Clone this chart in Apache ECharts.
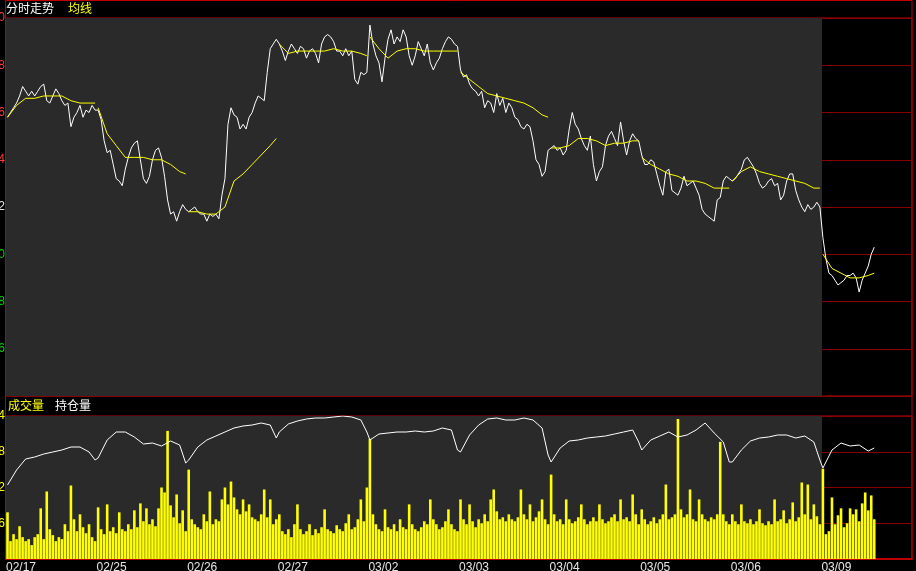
<!DOCTYPE html>
<html><head><meta charset="utf-8">
<script src="https://cdn.jsdelivr.net/npm/echarts/dist/echarts.min.js"></script>
<style>html,body{margin:0;padding:0;background:#000;overflow:hidden;}#c{width:916px;height:571px;}</style>
</head><body><div id="c"></div>
<script>
// ---- data ----
const dates = ['02/17','02/25','02/26','02/27','03/02','03/03','03/04','03/05','03/06','03/09'];
const SLOTS = 30; // samples per trading day
const priceMin = 2814, priceMax = 2830, priceStep = 2, basePrice = 2822;
const volMax = 144, volStep = 36;
const oiMin = 180000, oiMax = 194300;

const price = [
 2825.8,2826.0,2826.2,2826.4,2826.7,2827.1,2826.9,2826.7,2826.9,2826.7,2826.9,2827.1,2827.2,2826.5,2826.4,2826.7,2827.0,2826.8,2826.5,2826.3,2826.4,2825.4,2825.8,2826.0,2826.3,2825.8,2826.1,2826.0,2826.3,2826.1,
 2826.1,2825.7,2824.8,2824.3,2824.4,2823.8,2823.2,2823.1,2822.9,2823.6,2824.1,2824.5,2824.7,2824.8,2824.0,2823.2,2823.0,2823.3,2824.0,2824.4,2824.5,2824.1,2823.3,2822.3,2821.7,2821.8,2821.4,2821.8,2822.1,2821.9,
 2821.8,2821.9,2822.0,2821.8,2821.7,2821.7,2821.4,2821.7,2821.6,2821.7,2821.5,2822.5,2823.2,2825.5,2826.2,2825.9,2825.8,2825.3,2825.5,2825.3,2825.8,2826.0,2826.4,2826.7,2826.6,2826.5,2827.7,2828.7,2828.9,2829.1,
 2828.9,2828.6,2828.2,2828.6,2828.9,2828.7,2828.5,2828.8,2828.7,2828.3,2828.6,2828.7,2828.5,2828.1,2828.9,2829.2,2829.3,2829.2,2829.0,2828.6,2828.6,2828.4,2828.7,2828.4,2828.6,2827.4,2827.2,2827.7,2827.6,2827.7,
 2829.7,2828.9,2828.4,2828.1,2827.3,2828.3,2829.1,2829.5,2828.9,2829.2,2829.0,2829.5,2829.2,2828.4,2828.0,2828.4,2829.0,2828.7,2828.4,2828.9,2828.1,2827.8,2828.1,2828.3,2828.7,2829.0,2829.2,2829.1,2828.9,2828.8,
 2827.8,2827.5,2827.6,2827.2,2827.0,2826.9,2826.7,2826.9,2826.2,2826.5,2826.4,2826.0,2826.8,2826.3,2826.6,2826.0,2826.4,2826.2,2825.8,2825.7,2825.4,2825.3,2825.5,2825.4,2824.8,2824.0,2823.8,2823.3,2823.5,2824.4,
 2824.5,2824.6,2824.4,2824.5,2824.2,2824.4,2825.3,2826.0,2825.5,2825.3,2824.9,2824.6,2824.4,2825.0,2823.8,2823.1,2823.5,2823.7,2824.6,2825.0,2825.2,2824.9,2824.6,2825.6,2824.8,2824.2,2824.8,2825.1,2824.9,2824.8,
 2824.2,2823.8,2823.8,2824.0,2823.9,2823.4,2822.9,2822.5,2823.5,2823.6,2822.7,2822.6,2822.5,2822.8,2823.3,2822.9,2823.0,2823.1,2822.8,2822.5,2821.9,2821.7,2821.6,2821.5,2821.4,2822.3,2822.4,2823.1,2823.3,2823.2,
 2823.1,2823.2,2823.4,2823.6,2824.0,2824.1,2823.9,2823.7,2823.4,2823.0,2822.8,2822.9,2823.1,2823.2,2822.9,2823.0,2822.3,2822.5,2823.1,2823.4,2823.4,2822.7,2822.3,2822.0,2821.8,2822.1,2821.9,2822.0,2822.2,2822.0,
 2820.7,2819.8,2819.2,2819.1,2818.9,2818.7,2818.8,2818.9,2819.1,2819.1,2819.2,2819.0,2818.4,2818.9,2819.2,2819.5,2820.0,2820.3
];

const volume = [
 47,18,25,20,33,22,18,20,14,22,25,51,20,68,30,24,18,22,20,35,28,74,40,28,45,32,26,35,22,18,
 52,30,25,55,28,32,26,47,30,28,35,30,49,32,56,38,51,35,40,33,51,72,67,129,54,42,65,36,49,28,
 90,40,35,32,30,45,38,68,35,40,38,60,72,55,78,62,50,45,60,48,55,42,40,38,45,70,42,60,35,40,
 45,28,25,30,22,35,55,30,25,28,35,24,30,26,32,50,30,28,26,34,30,28,36,45,30,32,40,60,38,72,
 121,45,35,30,28,50,32,30,35,28,40,32,30,55,35,30,28,32,38,35,60,40,35,30,32,38,50,35,30,28,
 60,40,35,55,38,32,40,36,45,38,60,70,48,40,42,38,45,40,38,42,70,45,40,55,38,42,48,60,40,35,
 85,45,38,40,35,60,40,36,38,42,55,40,35,38,42,38,55,40,36,38,42,45,38,60,40,42,38,65,45,35,
 50,40,35,38,42,36,40,45,75,40,42,45,141,50,42,45,70,40,38,60,45,40,38,42,40,45,118,45,38,35,
 45,38,35,55,38,36,40,35,38,50,36,34,38,35,60,38,40,49,36,40,57,38,42,77,45,75,40,55,43,35,
 91,25,28,62,35,44,51,32,36,51,45,50,38,56,67,49,64,40
];

// slots (within a day) at which the average line and open interest were read
const sampleSlots = [0,3,6,9,12,15,18,21,24,27,29];
const lastDaySlots = [0,3,6,9,12,15,17];

const avgByDay = [
 [2825.8,2826.3,2826.6,2826.6,2826.7,2826.7,2826.7,2826.5,2826.4,2826.4,2826.4],
 [2826.2,2825.1,2824.6,2824.1,2824.1,2824.1,2824.0,2824.0,2823.8,2823.5,2823.4],
 [2821.8,2821.8,2821.7,2821.7,2822.0,2823.1,2823.4,2823.8,2824.2,2824.6,2824.9],
 [2828.9,2828.5,2828.6,2828.6,2828.6,2828.6,2828.7,2828.6,2828.6,2828.5,2828.4],
 [2829.2,2828.7,2828.3,2828.6,2828.7,2828.7,2828.6,2828.6,2828.6,2828.6,2828.6],
 [2827.7,2827.4,2827.1,2826.8,2826.7,2826.6,2826.5,2826.4,2826.2,2825.9,2825.8],
 [2824.5,2824.5,2824.6,2824.9,2824.9,2824.8,2824.6,2824.7,2824.7,2824.8,2824.8],
 [2824.1,2823.8,2823.6,2823.4,2823.3,2823.1,2823.1,2823.0,2822.8,2822.8,2822.8],
 [2823.1,2823.5,2823.7,2823.5,2823.4,2823.3,2823.2,2823.1,2823.0,2822.8,2822.8],
 [2820.0,2819.4,2819.2,2819.0,2819.0,2819.1,2819.2]
];

const oiByDay = [
 [187400,188900,190000,190200,190500,190700,190900,191200,191200,190700,189900],
 [190100,191900,192700,192700,192200,191500,191600,191300,191800,191400,189600],
 [189900,191200,191900,192300,192700,193100,193300,193400,193600,193400,192100],
 [192700,193500,193800,194000,194100,194100,194200,194300,194200,193900,192700],
 [191900,192500,192600,192700,192700,192800,192700,192800,193100,192900,190900],
 [190700,192400,193400,194000,194100,193900,193900,194100,193900,193100,190400],
 [189700,191100,191800,191900,192100,192200,192300,192500,192700,192900,191700],
 [190900,191900,192300,192700,192200,192400,192900,193600,192600,191700,189700],
 [189700,190900,191800,192100,192200,192400,192400,192100,192300,191700,189900],
 [189100,190900,191600,191300,191400,190800,191100]
];

// ---- build ----
const totalSlots = dates.length * SLOTS;
const slotsFor = d => d === dates.length - 1 ? lastDaySlots : sampleSlots;
const priceData = price.map((v, i) => [i + 0.5, v]);
const volData = volume.map((v, i) => [i + 0.5, v]);
const oiData = [];
oiByDay.forEach((arr, d) => arr.forEach((v, j) => oiData.push([d * SLOTS + slotsFor(d)[j] + 0.5, v])));

const RED = '#c00000', GRID = '#860000';
const series = [];
// grey session background (history days), under the grid lines
[0, 1].forEach(g => series.push({
  type: 'line', xAxisIndex: g, yAxisIndex: g, data: [], z: -1, silent: true,
  markArea: { silent: true, itemStyle: { color: '#2a2a2a' }, data: [[{ xAxis: 0 }, { xAxis: (dates.length - 1) * SLOTS }]] }
}));
series.push({ type: 'line', name: '分时', xAxisIndex: 0, yAxisIndex: 0, data: priceData, showSymbol: false, symbol: 'none',
  lineStyle: { color: '#ffffff', width: 1 }, z: 3 });
avgByDay.forEach((arr, d) => series.push({
  type: 'line', name: '均线', xAxisIndex: 0, yAxisIndex: 0, symbol: 'none', z: 4,
  data: arr.map((v, j) => [d * SLOTS + slotsFor(d)[j] + 0.5, v]),
  lineStyle: { color: '#ffff00', width: 1 }
}));
series.push({ type: 'bar', name: '成交量', xAxisIndex: 1, yAxisIndex: 1, data: volData, barWidth: 2.6,
  itemStyle: { color: '#ffff00' }, z: 3 });
series.push({ type: 'line', name: '持仓量', xAxisIndex: 1, yAxisIndex: 2, data: oiData, symbol: 'none',
  lineStyle: { color: '#ffffff', width: 1 }, z: 4 });

const chart = echarts.init(document.getElementById('c'), null, { renderer: 'canvas' });
chart.setOption({
  backgroundColor: '#000',
  animation: false,
  grid: [
    { left: 6, right: 4, top: 18, height: 378, show: true, borderColor: RED, borderWidth: 1, containLabel: false, outerBoundsMode: 'none' },
    { left: 6, right: 4, top: 416, height: 143, show: true, borderColor: RED, borderWidth: 1, containLabel: false, outerBoundsMode: 'none' }
  ],
  xAxis: [
    { type: 'value', gridIndex: 0, min: 0, max: totalSlots, interval: SLOTS,
      axisLine: { show: false }, axisTick: { show: false }, axisLabel: { show: false },
      splitLine: { show: true, lineStyle: { color: GRID, width: 1 } } },
    { type: 'value', gridIndex: 1, min: 0, max: totalSlots, interval: SLOTS,
      axisLine: { show: true, lineStyle: { color: RED, width: 2 } }, axisTick: { show: false },
      axisLabel: { show: true, align: 'left', margin: 3, color: '#e6e6e6', fontSize: 12, fontFamily: 'Liberation Sans',
        showMaxLabel: false, hideOverlap: false,
        formatter: v => { const i = Math.round(v / SLOTS); return i < dates.length ? dates[i] : ''; } },
      splitLine: { show: true, lineStyle: { color: GRID, width: 1 } } }
  ],
  yAxis: [
    { type: 'value', gridIndex: 0, min: priceMin, max: priceMax, interval: priceStep,
      axisLine: { show: false }, axisTick: { show: false },
      splitLine: { show: true, lineStyle: { color: GRID, width: 1 } },
      axisLabel: { margin: 1, fontSize: 12, fontFamily: 'Liberation Sans',
        formatter: v => {
          if (v <= priceMin) return '';
          const d = String(Math.round(v)).slice(-1);
          const k = v > basePrice ? 'up' : (v < basePrice ? 'dn' : 'eq');
          return '{' + k + '|' + d + '}';
        },
        rich: { up: { color: '#ff3c3c', fontSize: 12 }, dn: { color: '#00d000', fontSize: 12 }, eq: { color: '#e6e6e6', fontSize: 12 } } } },
    { type: 'value', gridIndex: 1, min: 0, max: volMax, interval: volStep,
      axisLine: { show: false }, axisTick: { show: false },
      splitLine: { show: true, lineStyle: { color: GRID, width: 1 } },
      axisLabel: { margin: 1, fontSize: 12, color: '#ffff00', fontFamily: 'Liberation Sans',
        formatter: v => v <= 0 ? '' : String(v).slice(-1) } },
    { type: 'value', gridIndex: 1, min: oiMin, max: oiMax, show: false, splitLine: { show: false } }
  ],
  graphic: [
    { type: 'rect', z: 0, shape: { x: 5.5, y: 0.5, width: 906.5, height: 559 }, style: { fill: null, stroke: RED, lineWidth: 1 } },
    { type: 'text', left: 6, top: 2, style: { text: '分时走势', fill: '#ffffff', font: '12px "Noto Sans CJK SC"' } },
    { type: 'text', left: 68, top: 2, style: { text: '均线', fill: '#ffff00', font: '12px "Noto Sans CJK SC"' } },
    { type: 'text', left: 8, top: 399, style: { text: '成交量', fill: '#ffff00', font: '12px "Noto Sans CJK SC"' } },
    { type: 'text', left: 55, top: 399, style: { text: '持仓量', fill: '#ffffff', font: '12px "Noto Sans CJK SC"' } }
  ],
  series: series
});
</script></body></html>
